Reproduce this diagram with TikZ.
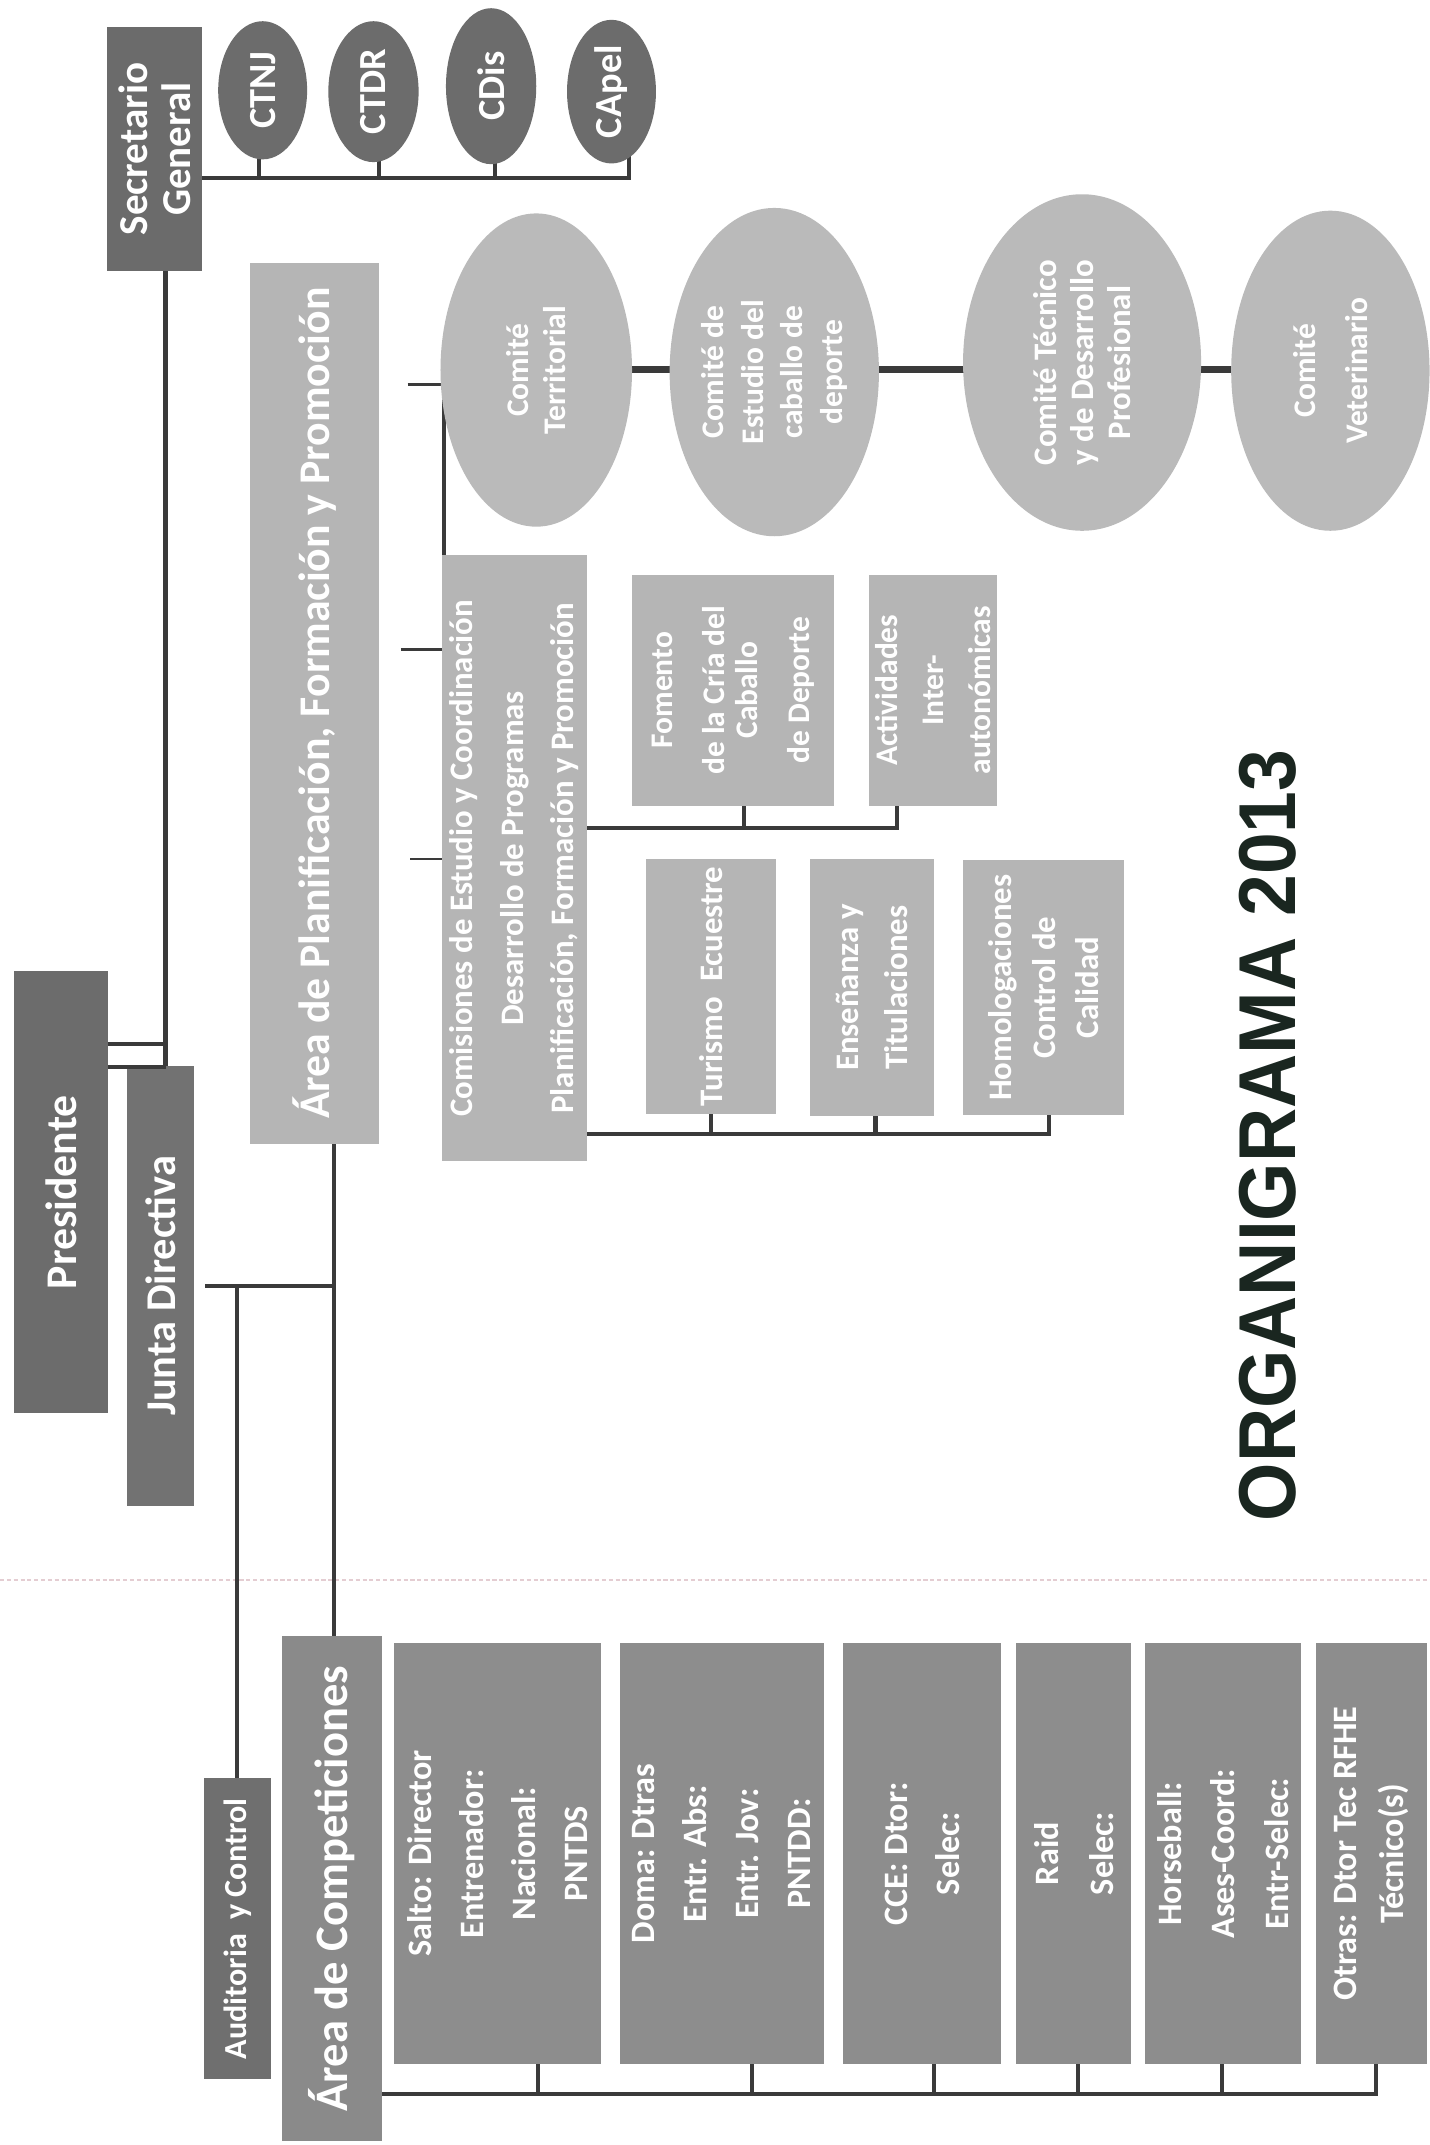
\documentclass[tikz,border=0pt]{standalone}
\usepackage{fontspec}
\setmainfont{Carlito}
\newfontfamily\titlefont[FakeStretch=0.93]{Liberation Sans}
\usepackage{graphicx}
\usetikzlibrary{shapes.geometric}
\definecolor{secgray}{HTML}{6B6B6B}
\definecolor{topell}{HTML}{6C6C6C}
\definecolor{presgray}{HTML}{6C6C6C}
\definecolor{juntagray}{HTML}{727272}
\definecolor{lightbox}{HTML}{B5B5B5}
\definecolor{lightell}{HTML}{BABABA}
\definecolor{audgray}{HTML}{6F6F6F}
\definecolor{areacgray}{HTML}{8A8A8A}
\definecolor{compgray}{HTML}{8D8D8D}
\definecolor{linec}{HTML}{3A3A3A}
\definecolor{dotc}{RGB}{228,205,210}
\definecolor{titlec}{HTML}{1A2620}
\pgfdeclarelayer{paper}
\pgfdeclarelayer{bg}
\pgfsetlayers{paper,bg,main}
\newcommand{\rt}[3]{\rotatebox{90}{\fontsize{#1}{#2}\selectfont\vbox{\let\\\cr\halign{\hfil##\hfil\cr#3\crcr}}}}
\tikzset{
  box/.style={rectangle, inner sep=0pt, outer sep=0pt, text=white, font=\bfseries},
  ell/.style={ellipse, inner sep=0pt, outer sep=0pt},
  lbl/.style={inner sep=0pt, outer sep=0pt, text=white, font=\bfseries},
  conn/.style={draw=linec, line width=3pt},
  fat/.style={draw=linec, line width=5pt},
  stub/.style={draw=linec, line width=2pt},
}
\begin{document}
\begin{tikzpicture}[x=1pt,y=-1pt]
\useasboundingbox (0,0) rectangle (1045,1568);
\begin{pgfonlayer}{paper}
\fill[white] (0,0) rectangle (1045,1568);
\draw[dotc, line width=1pt, dash pattern=on 3pt off 2pt] (0,1155) -- (1045,1155);
\end{pgfonlayer}

% ---- top: Secretario General and committees
\node[box, fill=secgray, minimum width=70, minimum height=178] (sec) at (113,109) {\rt{30}{31}{Secretario\\General}};
\node[ell, fill=topell, minimum width=65, minimum height=101] (ctnj) at (192,66) {};
\node[lbl] (ctnjt) at (ctnj) {\rt{28}{28}{CTNJ}};
\node[ell, fill=topell, minimum width=66, minimum height=103] (ctdr) at (273,67) {};
\node[lbl] (ctdrt) at (ctdr) {\rt{28}{28}{CTDR}};
\node[ell, fill=topell, minimum width=66, minimum height=114] (cdis) at (359,63) {};
\node[lbl] (cdist) at (cdis) {\rt{28}{28}{CDis}};
\node[ell, fill=topell, minimum width=65, minimum height=105] (capel) at (447,67) {};
\node[lbl] (capelt) at (capel) {\rt{28}{28}{CApel}};

% ---- Presidente / Junta
\node[box, fill=presgray, minimum width=69, minimum height=323] (pres) at (44.5,871.5) {\rt{32}{32}{Presidente}};
\node[box, fill=juntagray, minimum width=49, minimum height=322] (junta) at (117.5,940) {\rt{31}{31}{Junta Directiva}};

% ---- Area de Planificacion
\node[box, fill=lightbox, minimum width=94, minimum height=644] (areaP) at (230,514) {\rt{32}{32}{Área de Planificación, Formación y Promoción}};
\node[box, fill=lightbox, minimum width=106, minimum height=443] (comis) at (376,627.5) {\rt{24}{37}{Comisiones de Estudio y Coordinación\\Desarrollo de Programas\\Planificación, Formación y Promoción}};
\node[box, fill=lightbox, minimum width=148, minimum height=169] (fomento) at (536,504.5) {\rt{23}{38}{Fomento\\de la Cría del\\\noalign{\vskip-14pt}Caballo\\de Deporte}};
\node[box, fill=lightbox, minimum width=94, minimum height=169] (activ) at (682,504.5) {\rt{23}{34}{Actividades\\Inter-\\autonómicas}};
\node[box, fill=lightbox, minimum width=95, minimum height=186] (turismo) at (519.5,721) {\rt{24}{24}{Turismo\ \ Ecuestre}};
\node[box, fill=lightbox, minimum width=91, minimum height=188] (ensen) at (637.5,722) {\rt{24}{36}{Enseñanza y\\Titulaciones}};
\node[box, fill=lightbox, minimum width=118, minimum height=186] (homol) at (763,722) {\rt{24}{32}{Homologaciones\\Control de\\Calidad}};

% ---- right committees
\node[ell, fill=lightell, minimum width=140, minimum height=229] (comT) at (392,270.5) {};
\node[lbl] (comTt) at (comT) {\rt{23}{27}{Comité\\Territorial}};
\node[ell, fill=lightell, minimum width=153, minimum height=240] (comE) at (566,272) {};
\node[lbl] (comEt) at (comE) {\rt{23}{29}{Comité de\\Estudio del\\caballo de\\deporte}};
\node[ell, fill=lightell, minimum width=174, minimum height=246] (comTec) at (791,265) {};
\node[lbl] (comTect) at (comTec) {\rt{24}{27}{Comité Técnico\\y de Desarrollo\\Profesional}};
\node[ell, fill=lightell, minimum width=145, minimum height=234] (comV) at (972.5,271) {};
\node[lbl] (comVt) at (comV) {\rt{23}{38}{Comité\\Veterinario}};

% ---- Competiciones
\node[box, fill=audgray, minimum width=49, minimum height=220] (audit) at (173.5,1410) {\rt{23.5}{24}{Auditoria\ \ y Control}};
\node[box, fill=areacgray, minimum width=73, minimum height=369] (areaC) at (242.5,1380.5) {\rt{34}{34}{Área de Competiciones}};
\node[box, fill=compgray, minimum width=151, minimum height=308] (salto) at (363.5,1355) {\rt{25}{38}{Salto: Director\\Entrenador:\\Nacional:\\PNTDS}};
\node[box, fill=compgray, minimum width=149, minimum height=308] (doma) at (527.5,1355) {\rt{25}{38}{Doma: Dtras\\Entr. Abs:\\Entr. Jov:\\PNTDD:}};
\node[box, fill=compgray, minimum width=116, minimum height=308] (cce) at (674,1355) {\rt{25}{38}{CCE: Dtor:\\Selec:}};
\node[box, fill=compgray, minimum width=84, minimum height=308] (raid) at (785,1355) {\rt{25}{40}{Raid\\Selec:}};
\node[box, fill=compgray, minimum width=114, minimum height=308] (horse) at (894,1355) {\rt{25}{39}{Horseball:\\Ases-Coord:\\Entr-Selec:}};
\node[box, fill=compgray, minimum width=81, minimum height=308] (otras) at (1002.5,1355) {\rt{25}{35}{Otras: Dtor Tec RFHE\\Técnico(s)}};

% ---- title
\node[inner sep=0pt, text=titlec] (title) at (927,830) {\rotatebox{90}{\titlefont\bfseries\fontsize{59}{59}\selectfont ORGANIGRAMA 2013}};

% ---- connectors
\coordinate (tb) at (0,130);
\coordinate (pj) at (0,763);
\coordinate (jv) at (244,940);
\coordinate (cy) at (0,270);
\coordinate (fb) at (0,605);
\coordinate (cb) at (0,829);
\coordinate (bb) at (0,1531);
\coordinate (s1) at (298,281);
\coordinate (s2) at (293,475);
\coordinate (s3) at (300,628);
\begin{pgfonlayer}{bg}
% secretario committees
\draw[conn] (sec.east |- tb) -- ([xshift=13]capel.center |- tb) -- ([xshift=13]capel.center);
\draw[conn] ([xshift=-3]ctnj.center) -- ([xshift=-3]ctnj.center |- tb);
\draw[conn] ([xshift=4]ctdr.center) -- ([xshift=4]ctdr.center |- tb);
\draw[conn] ([xshift=3]cdis.center) -- ([xshift=3]cdis.center |- tb);
% secretario - presidente - junta
\draw[conn] ([xshift=8]sec.south) -- ([xshift=8]sec.south |- junta.north);
\draw[conn] (pres.east |- pj) -- ([xshift=8]sec.south |- pj);
\end{pgfonlayer}
\draw[conn] ([yshift=-1]pres.east |- junta.north) -- ([xshift=8,yshift=-1]sec.south |- junta.north);
\begin{pgfonlayer}{bg}
% junta - areas
\draw[conn] ([xshift=8]junta.east |- jv) -- (jv);
\draw[conn] (jv |- areaP.south) -- (jv |- areaC.north);
\draw[conn] (audit.north |- jv) -- (audit.north);
% comites
\draw[fat] (comT.center |- cy) -- (comV.center |- cy);
\draw[conn] ([xshift=1.5]comis.north west) -- ([xshift=1.5]comis.north west |- comT.center);
\draw[stub] (s1) -- (s1 -| comT.center);
\draw[stub] (s2) -- (s2 -| comis.west);
\draw[stub] (s3) -- (s3 -| comis.west);
% comisiones buses
\draw[conn] (comis.east |- fb) -- ([xshift=-26]activ.south |- fb) -- ([xshift=-26]activ.south);
\draw[conn] ([xshift=8]fomento.south) -- ([xshift=8]fomento.south |- fb);
\draw[conn] (comis.east |- cb) -- ([xshift=4]homol.south |- cb) -- ([xshift=4]homol.south);
\draw[conn] (turismo.south) -- (turismo.south |- cb);
\draw[conn] ([xshift=2.5]ensen.south) -- ([xshift=2.5]ensen.south |- cb);
% competiciones bus
\draw[conn] (areaC.east |- bb) -- ([xshift=3.5]otras.south |- bb) -- ([xshift=3.5]otras.south);
\draw[conn] ([xshift=29.5]salto.south) -- ([xshift=29.5]salto.south |- bb);
\draw[conn] ([xshift=22.5]doma.south) -- ([xshift=22.5]doma.south |- bb);
\draw[conn] ([xshift=9]cce.south) -- ([xshift=9]cce.south |- bb);
\draw[conn] ([xshift=3]raid.south) -- ([xshift=3]raid.south |- bb);
\draw[conn] ([xshift=-1]horse.south) -- ([xshift=-1]horse.south |- bb);
\end{pgfonlayer}
\end{tikzpicture}
\end{document}
